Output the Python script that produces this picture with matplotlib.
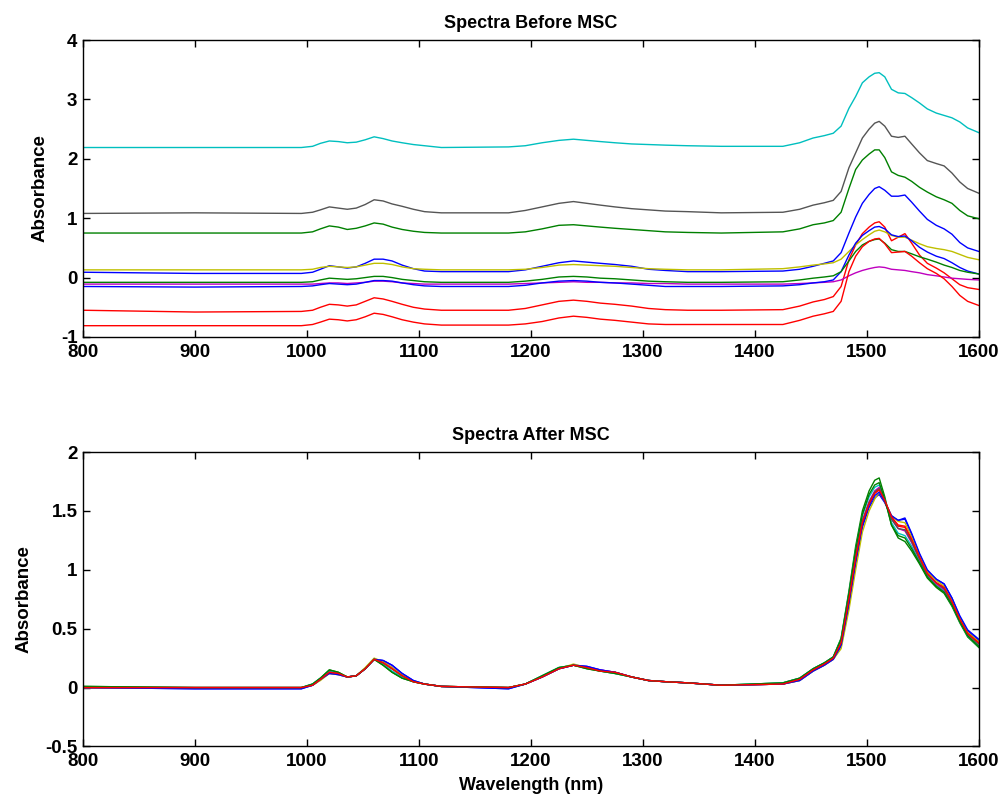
import matplotlib
matplotlib.use("Agg")
import matplotlib.pyplot as plt

plt.rcParams['font.family'] = ['Liberation Sans', 'DejaVu Sans']
plt.rcParams['axes.unicode_minus'] = False

# Wavelength grid (nm) shared by every spectrum
wavelength_nm = [
    800, 900, 995, 1005, 1012, 1020, 1028, 1036, 1044, 1052,
    1060, 1068, 1076, 1085, 1095, 1105, 1120, 1180, 1195, 1210,
    1225, 1238, 1250, 1262, 1275, 1290, 1305, 1320, 1340, 1370,
    1425, 1440, 1452, 1462, 1470, 1477, 1484, 1490, 1496, 1502,
    1507, 1511, 1516, 1522, 1528, 1534, 1540, 1547, 1554, 1562,
    1569, 1576, 1583, 1590, 1600,
]

# Raw absorbance spectra (before scatter correction), samples 1..10
raw_s1 = [  # blue
    0.09, 0.07, 0.07, 0.09, 0.14, 0.20, 0.18, 0.16, 0.18, 0.24,
    0.31, 0.31, 0.28, 0.21, 0.15, 0.11, 0.10, 0.10, 0.13, 0.19,
    0.25, 0.28, 0.26, 0.24, 0.22, 0.19, 0.14, 0.12, 0.10, 0.10,
    0.11, 0.14, 0.19, 0.24, 0.28, 0.42, 0.75, 1.02, 1.25, 1.40,
    1.50, 1.53, 1.47, 1.37, 1.37, 1.39, 1.27, 1.12, 0.98, 0.88,
    0.82, 0.73, 0.59, 0.50, 0.44,
]
raw_s2 = [  # green
    0.75, 0.75, 0.75, 0.77, 0.82, 0.87, 0.85, 0.81, 0.83, 0.87,
    0.92, 0.90, 0.85, 0.81, 0.78, 0.76, 0.75, 0.75, 0.77, 0.82,
    0.88, 0.89, 0.87, 0.85, 0.83, 0.81, 0.79, 0.77, 0.76, 0.75,
    0.77, 0.82, 0.89, 0.92, 0.96, 1.10, 1.50, 1.82, 1.98, 2.08,
    2.15, 2.15, 2.02, 1.78, 1.72, 1.69, 1.62, 1.52, 1.44, 1.36,
    1.31, 1.25, 1.13, 1.04, 0.99,
]
raw_s3 = [  # red
    -0.55, -0.58, -0.57, -0.55, -0.50, -0.45, -0.46, -0.48, -0.46, -0.40,
    -0.34, -0.36, -0.40, -0.45, -0.50, -0.53, -0.55, -0.55, -0.52, -0.46,
    -0.40, -0.38, -0.40, -0.43, -0.45, -0.48, -0.52, -0.54, -0.55, -0.55,
    -0.54, -0.48, -0.41, -0.37, -0.32, -0.15, 0.30, 0.55, 0.74, 0.85,
    0.92, 0.94, 0.85, 0.62, 0.68, 0.74, 0.58, 0.38, 0.24, 0.16,
    0.08, -0.02, -0.12, -0.17, -0.20,
]
raw_s4 = [  # cyan
    2.19, 2.19, 2.19, 2.21, 2.26, 2.30, 2.29, 2.27, 2.28, 2.32,
    2.37, 2.34, 2.30, 2.27, 2.24, 2.22, 2.19, 2.20, 2.22, 2.27,
    2.31, 2.33, 2.31, 2.29, 2.27, 2.25, 2.24, 2.23, 2.22, 2.21,
    2.21, 2.27, 2.35, 2.39, 2.43, 2.55, 2.85, 3.05, 3.28, 3.38,
    3.44, 3.45, 3.38, 3.17, 3.11, 3.10, 3.03, 2.94, 2.84, 2.77,
    2.73, 2.69, 2.62, 2.52, 2.44,
]
raw_s5 = [  # magenta
    -0.11, -0.11, -0.11, -0.11, -0.10, -0.09, -0.09, -0.10, -0.09, -0.08,
    -0.06, -0.06, -0.07, -0.09, -0.10, -0.11, -0.11, -0.11, -0.10, -0.09,
    -0.08, -0.07, -0.08, -0.08, -0.09, -0.09, -0.10, -0.10, -0.11, -0.11,
    -0.11, -0.10, -0.09, -0.08, -0.07, -0.04, 0.03, 0.08, 0.12, 0.15,
    0.17, 0.18, 0.17, 0.14, 0.13, 0.12, 0.10, 0.08, 0.05, 0.03,
    0.01, -0.01, -0.02, -0.03, -0.04,
]
raw_s6 = [  # yellow
    0.13, 0.13, 0.13, 0.14, 0.17, 0.19, 0.18, 0.17, 0.18, 0.21,
    0.24, 0.24, 0.22, 0.18, 0.15, 0.14, 0.13, 0.13, 0.14, 0.17,
    0.21, 0.22, 0.21, 0.20, 0.19, 0.17, 0.15, 0.14, 0.13, 0.13,
    0.15, 0.18, 0.21, 0.23, 0.25, 0.31, 0.44, 0.55, 0.64, 0.72,
    0.78, 0.80, 0.77, 0.71, 0.68, 0.68, 0.63, 0.57, 0.52, 0.49,
    0.47, 0.44, 0.39, 0.34, 0.30,
]
raw_s7 = [  # black
    1.08, 1.09, 1.08, 1.10, 1.14, 1.19, 1.17, 1.15, 1.17, 1.23,
    1.31, 1.29, 1.24, 1.20, 1.15, 1.11, 1.09, 1.09, 1.13, 1.19,
    1.25, 1.28, 1.25, 1.22, 1.19, 1.16, 1.14, 1.12, 1.11, 1.09,
    1.10, 1.15, 1.22, 1.26, 1.30, 1.45, 1.85, 2.10, 2.35, 2.50,
    2.60, 2.63, 2.55, 2.38, 2.36, 2.38, 2.25, 2.10, 1.97, 1.92,
    1.88, 1.76, 1.61, 1.50, 1.42,
]
raw_s8 = [  # blue
    -0.15, -0.16, -0.15, -0.14, -0.12, -0.10, -0.11, -0.12, -0.11, -0.08,
    -0.05, -0.05, -0.06, -0.09, -0.12, -0.14, -0.15, -0.15, -0.13, -0.09,
    -0.06, -0.05, -0.06, -0.08, -0.09, -0.11, -0.13, -0.15, -0.15, -0.15,
    -0.14, -0.12, -0.09, -0.07, -0.04, 0.10, 0.38, 0.58, 0.71, 0.79,
    0.85, 0.86, 0.82, 0.72, 0.69, 0.70, 0.62, 0.51, 0.43, 0.36,
    0.32, 0.25, 0.17, 0.11, 0.06,
]
raw_s9 = [  # green
    -0.08, -0.08, -0.08, -0.07, -0.04, -0.01, -0.02, -0.03, -0.02, 0.00,
    0.02, 0.02, 0.00, -0.03, -0.05, -0.07, -0.08, -0.08, -0.06, -0.03,
    0.01, 0.02, 0.01, -0.01, -0.02, -0.04, -0.06, -0.07, -0.08, -0.08,
    -0.07, -0.04, -0.01, 0.01, 0.03, 0.10, 0.28, 0.44, 0.55, 0.61,
    0.64, 0.65, 0.58, 0.47, 0.44, 0.44, 0.40, 0.35, 0.31, 0.26,
    0.21, 0.17, 0.12, 0.09, 0.06,
]
raw_s10 = [  # red
    -0.81, -0.81, -0.81, -0.79, -0.75, -0.70, -0.71, -0.73, -0.71, -0.66,
    -0.60, -0.62, -0.66, -0.71, -0.75, -0.78, -0.80, -0.80, -0.78, -0.74,
    -0.68, -0.65, -0.67, -0.70, -0.72, -0.75, -0.78, -0.79, -0.79, -0.79,
    -0.79, -0.72, -0.65, -0.61, -0.57, -0.40, 0.10, 0.36, 0.52, 0.61,
    0.65, 0.66, 0.57, 0.42, 0.43, 0.44, 0.36, 0.25, 0.15, 0.07,
    -0.02, -0.15, -0.30, -0.40, -0.47,
]

# Spectra after multiplicative scatter correction, samples 1..10
msc_s1 = [
    0.00, -0.01, -0.01, 0.02, 0.07, 0.12, 0.11, 0.09, 0.10, 0.16,
    0.24, 0.23, 0.19, 0.12, 0.06, 0.03, 0.01, -0.01, 0.03, 0.09,
    0.16, 0.19, 0.18, 0.15, 0.13, 0.09, 0.06, 0.05, 0.04, 0.02,
    0.03, 0.06, 0.14, 0.19, 0.24, 0.35, 0.70, 1.05, 1.36, 1.53,
    1.61, 1.64, 1.57, 1.45, 1.42, 1.43, 1.30, 1.13, 0.99, 0.92,
    0.88, 0.76, 0.60, 0.48, 0.40,
]
msc_s2 = [
    0.01, 0.00, 0.00, 0.03, 0.08, 0.15, 0.13, 0.09, 0.10, 0.16,
    0.24, 0.19, 0.13, 0.08, 0.05, 0.03, 0.01, 0.00, 0.03, 0.10,
    0.17, 0.19, 0.16, 0.14, 0.12, 0.09, 0.06, 0.05, 0.04, 0.02,
    0.04, 0.08, 0.16, 0.21, 0.26, 0.42, 0.82, 1.20, 1.50, 1.67,
    1.76, 1.78, 1.62, 1.38, 1.27, 1.24, 1.16, 1.05, 0.93, 0.85,
    0.80, 0.69, 0.55, 0.43, 0.34,
]
msc_s3 = [
    0.00, 0.00, 0.00, 0.02, 0.07, 0.13, 0.12, 0.09, 0.10, 0.16,
    0.24, 0.21, 0.16, 0.10, 0.05, 0.03, 0.01, 0.00, 0.03, 0.09,
    0.16, 0.19, 0.17, 0.14, 0.13, 0.09, 0.06, 0.05, 0.04, 0.02,
    0.03, 0.07, 0.15, 0.20, 0.25, 0.38, 0.75, 1.10, 1.40, 1.56,
    1.65, 1.68, 1.58, 1.44, 1.37, 1.36, 1.25, 1.10, 0.97, 0.89,
    0.84, 0.72, 0.58, 0.46, 0.38,
]
msc_s4 = [
    0.00, 0.00, 0.00, 0.03, 0.08, 0.14, 0.12, 0.09, 0.10, 0.16,
    0.24, 0.20, 0.14, 0.09, 0.05, 0.03, 0.01, 0.00, 0.03, 0.10,
    0.17, 0.19, 0.17, 0.14, 0.12, 0.09, 0.06, 0.05, 0.04, 0.02,
    0.04, 0.08, 0.16, 0.21, 0.26, 0.41, 0.80, 1.17, 1.46, 1.62,
    1.70, 1.72, 1.60, 1.40, 1.31, 1.29, 1.20, 1.07, 0.95, 0.87,
    0.82, 0.70, 0.56, 0.44, 0.35,
]
msc_s5 = [
    0.00, 0.00, 0.00, 0.02, 0.07, 0.13, 0.12, 0.09, 0.10, 0.16,
    0.24, 0.22, 0.17, 0.11, 0.05, 0.03, 0.01, 0.00, 0.03, 0.09,
    0.16, 0.19, 0.17, 0.15, 0.13, 0.09, 0.06, 0.05, 0.04, 0.02,
    0.03, 0.07, 0.15, 0.20, 0.25, 0.38, 0.76, 1.12, 1.42, 1.58,
    1.67, 1.70, 1.59, 1.43, 1.35, 1.33, 1.23, 1.09, 0.96, 0.88,
    0.83, 0.71, 0.57, 0.45, 0.37,
]
msc_s6 = [
    0.00, 0.00, 0.00, 0.02, 0.06, 0.12, 0.11, 0.09, 0.10, 0.17,
    0.25, 0.22, 0.17, 0.11, 0.05, 0.03, 0.01, 0.00, 0.03, 0.09,
    0.16, 0.20, 0.17, 0.14, 0.13, 0.09, 0.06, 0.05, 0.04, 0.02,
    0.03, 0.06, 0.14, 0.19, 0.24, 0.33, 0.66, 1.00, 1.32, 1.50,
    1.60, 1.66, 1.58, 1.46, 1.41, 1.40, 1.28, 1.12, 0.98, 0.91,
    0.86, 0.74, 0.59, 0.47, 0.39,
]
msc_s7 = [
    0.00, 0.00, 0.00, 0.02, 0.07, 0.13, 0.12, 0.09, 0.10, 0.16,
    0.24, 0.21, 0.16, 0.10, 0.05, 0.03, 0.01, 0.00, 0.03, 0.09,
    0.16, 0.19, 0.17, 0.14, 0.13, 0.09, 0.06, 0.05, 0.04, 0.02,
    0.03, 0.07, 0.15, 0.20, 0.25, 0.37, 0.74, 1.10, 1.41, 1.57,
    1.66, 1.69, 1.58, 1.43, 1.35, 1.34, 1.24, 1.09, 0.96, 0.89,
    0.84, 0.72, 0.58, 0.46, 0.37,
]
msc_s8 = [
    0.00, -0.01, -0.01, 0.02, 0.07, 0.12, 0.11, 0.09, 0.10, 0.16,
    0.24, 0.23, 0.19, 0.12, 0.06, 0.03, 0.01, -0.01, 0.03, 0.09,
    0.16, 0.19, 0.18, 0.15, 0.13, 0.09, 0.06, 0.05, 0.04, 0.02,
    0.03, 0.06, 0.14, 0.19, 0.24, 0.36, 0.72, 1.07, 1.38, 1.55,
    1.63, 1.66, 1.58, 1.46, 1.42, 1.44, 1.31, 1.14, 1.00, 0.92,
    0.88, 0.76, 0.61, 0.49, 0.41,
]
msc_s9 = [
    0.01, 0.00, 0.00, 0.03, 0.08, 0.15, 0.13, 0.09, 0.10, 0.16,
    0.24, 0.19, 0.13, 0.08, 0.05, 0.03, 0.01, 0.00, 0.03, 0.10,
    0.17, 0.19, 0.16, 0.14, 0.12, 0.09, 0.06, 0.05, 0.04, 0.02,
    0.04, 0.08, 0.16, 0.21, 0.26, 0.41, 0.80, 1.17, 1.47, 1.64,
    1.72, 1.74, 1.60, 1.38, 1.29, 1.27, 1.18, 1.06, 0.94, 0.86,
    0.81, 0.70, 0.56, 0.44, 0.35,
]
msc_s10 = [
    0.00, 0.00, 0.00, 0.02, 0.07, 0.13, 0.12, 0.09, 0.10, 0.16,
    0.24, 0.21, 0.16, 0.10, 0.05, 0.03, 0.01, 0.00, 0.03, 0.09,
    0.16, 0.19, 0.17, 0.14, 0.13, 0.09, 0.06, 0.05, 0.04, 0.02,
    0.03, 0.07, 0.15, 0.20, 0.25, 0.38, 0.75, 1.10, 1.40, 1.56,
    1.65, 1.68, 1.59, 1.45, 1.38, 1.37, 1.26, 1.11, 0.97, 0.89,
    0.85, 0.73, 0.58, 0.46, 0.38,
]

raw_spectra = [raw_s1, raw_s2, raw_s3, raw_s4, raw_s5,
               raw_s6, raw_s7, raw_s8, raw_s9, raw_s10]
msc_spectra = [msc_s1, msc_s2, msc_s3, msc_s4, msc_s5,
               msc_s6, msc_s7, msc_s8, msc_s9, msc_s10]

# Classic line colour order: b, g, r, c, m, y, k (cycled)
line_colors = ['#0000FF', '#008000', '#FF0000', '#00BFBF',
               '#BF00BF', '#BFBF00', '#555555']

x_ticks = [800, 900, 1000, 1100, 1200, 1300, 1400, 1500, 1600]
top_y_ticks = [-1, 0, 1, 2, 3, 4]
bottom_y_ticks = [-0.5, 0, 0.5, 1, 1.5, 2]
bottom_y_labels = ['-0.5', '0', '0.5', '1', '1.5', '2']

TICK_SIZE = 13.5
LABEL_SIZE = 13.5
TITLE_SIZE = 13

fig = plt.figure(figsize=(10.06, 8.05), dpi=100)
ax_top = fig.add_axes([0.0825, 0.5814, 0.8905, 0.3689])
ax_bot = fig.add_axes([0.0825, 0.0727, 0.8905, 0.3658])


def style_axes(ax):
    ax.tick_params(direction='in', length=5, width=1.0, top=True, right=True,
                   labelsize=TICK_SIZE)
    ax.tick_params(axis='x', pad=5)
    ax.tick_params(axis='y', pad=4)
    for lab in ax.get_xticklabels() + ax.get_yticklabels():
        lab.set_fontweight('bold')
    for sp in ax.spines.values():
        sp.set_linewidth(1.0)
        sp.set_color('black')


for i, spec in enumerate(raw_spectra):
    ax_top.plot(wavelength_nm, spec, color=line_colors[i % 7], lw=1.0)
ax_top.set_xlim(800, 1600)
ax_top.set_ylim(-1, 4)
ax_top.set_xticks(x_ticks)
ax_top.set_yticks(top_y_ticks)
ax_top.set_title('Spectra Before MSC', fontsize=TITLE_SIZE, fontweight='bold', pad=9)
ax_top.set_ylabel('Absorbance', fontsize=LABEL_SIZE, fontweight='bold', labelpad=9)
style_axes(ax_top)

for i, spec in enumerate(msc_spectra):
    ax_bot.plot(wavelength_nm, spec, color=line_colors[i % 7], lw=1.0)
ax_bot.set_xlim(800, 1600)
ax_bot.set_ylim(-0.5, 2)
ax_bot.set_xticks(x_ticks)
ax_bot.set_yticks(bottom_y_ticks)
ax_bot.set_yticklabels(bottom_y_labels)
ax_bot.set_title('Spectra After MSC', fontsize=TITLE_SIZE, fontweight='bold', pad=9)
ax_bot.set_ylabel('Absorbance', fontsize=LABEL_SIZE, fontweight='bold', labelpad=9)
ax_bot.set_xlabel('Wavelength (nm)', fontsize=13, fontweight='bold', labelpad=5)
style_axes(ax_bot)

fig.savefig('out.png', dpi=100)
